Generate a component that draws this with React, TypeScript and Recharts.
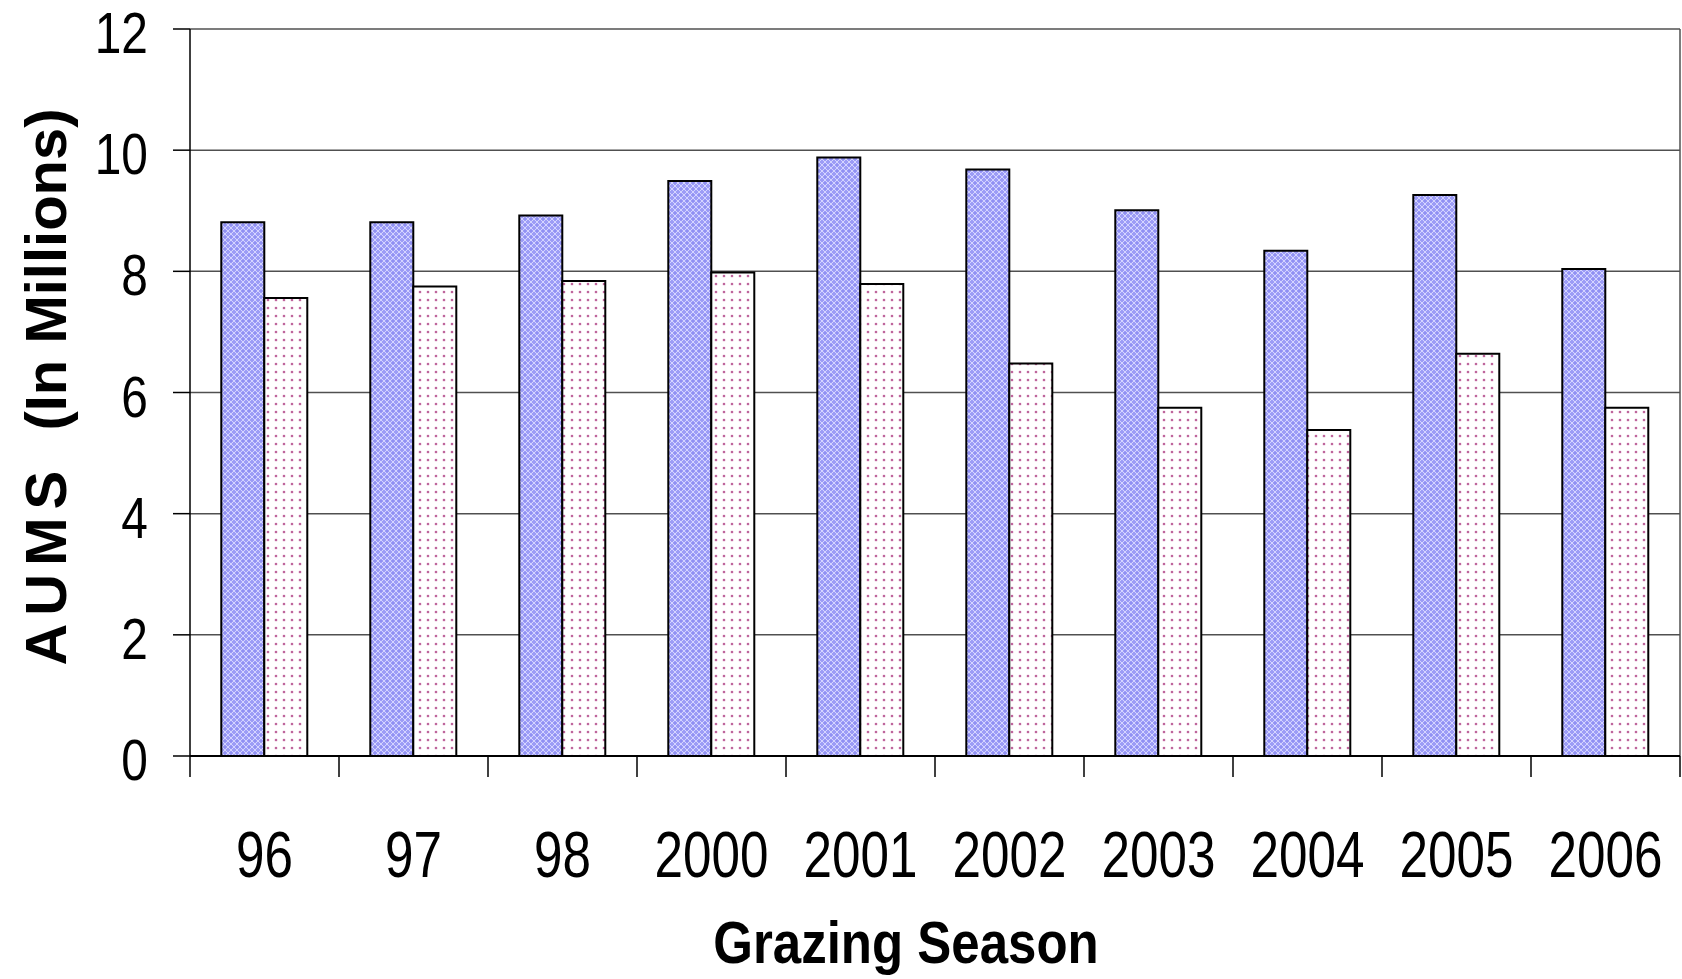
import React from 'react';
import { BarChart, Bar, XAxis, YAxis, CartesianGrid } from 'recharts';

const seasons = ['96', '97', '98', '2000', '2001', '2002', '2003', '2004', '2005', '2006'];
const blueValues = [8.81, 8.81, 8.92, 9.49, 9.88, 9.68, 9.01, 8.34, 9.26, 8.04];
const pinkValues = [7.56, 7.75, 7.84, 7.98, 7.79, 6.48, 5.75, 5.38, 6.64, 5.75];
const yTicks = [0, 2, 4, 6, 8, 10, 12];

const data = seasons.map((season, i) => ({
  season,
  blue: blueValues[i],
  pink: pinkValues[i],
}));

const W = 1682;
const H = 979;
const LEFT = 190;
const RIGHT = 2;
const BAND = (W - LEFT - RIGHT) / seasons.length;
const FONT = 'Liberation Sans, Arial, sans-serif';

const SeasonTick = (props: any) => {
  const { x, y, payload, index } = props;
  const left = x - BAND / 2;
  const right = x + BAND / 2;
  return (
    <g>
      <line x1={left} y1={y} x2={left} y2={y + 21} stroke="#000" strokeWidth={1.5} />
      {index === seasons.length - 1 && (
        <line x1={right} y1={y} x2={right} y2={y + 21} stroke="#000" strokeWidth={1.5} />
      )}
      <text
        transform={`translate(${x}, ${y + 121}) scale(0.8, 1)`}
        textAnchor="middle"
        fontSize={64}
        fontFamily={FONT}
        fill="#000"
      >
        {payload.value}
      </text>
    </g>
  );
};

const ValueTick = (props: any) => {
  const { x, y, payload } = props;
  return (
    <text
      transform={`translate(${x - 25}, ${y + 24}) scale(0.84, 1)`}
      textAnchor="end"
      fontSize={57}
      fontFamily={FONT}
      fill="#000"
    >
      {payload.value}
    </text>
  );
};

const App: React.FC = () => {
  return (
    <div style={{ position: 'absolute', left: 0, top: 0, width: W, height: H, background: '#fff' }}>
      <BarChart
        width={W}
        height={H}
        data={data}
        margin={{ top: 29, right: RIGHT, bottom: 0, left: 0 }}
        barCategoryGap="21%"
        barGap={0}
      >
        <defs>
          <pattern id="bluePat" width="6" height="6" patternUnits="userSpaceOnUse">
            <rect width="6" height="6" fill="#9c9cf6" />
            <path d="M0,3 L3,0 L6,3 L3,6 Z" fill="none" stroke="#d4d4ff" strokeWidth="1" />
            <circle cx="3" cy="3" r="0.8" fill="#8080f0" />
          </pattern>
          <pattern id="pinkPat" width="8" height="8" patternUnits="userSpaceOnUse">
            <rect width="8" height="8" fill="#fff" />
            <circle cx="4" cy="4" r="1.6" fill="#e8c0da" />
            <circle cx="4" cy="4" r="1" fill="#b04888" />
          </pattern>
        </defs>
        <CartesianGrid
          stroke="#505050"
          strokeWidth={1.5}
          verticalCoordinatesGenerator={({ offset }: any) => [offset.left + offset.width]}
        />
        <XAxis
          dataKey="season"
          height={H - 756}
          tickLine={false}
          tickSize={0}
          tickMargin={0}
          axisLine={{ stroke: '#000', strokeWidth: 2 }}
          tick={<SeasonTick />}
          interval={0}
        />
        <YAxis
          width={LEFT}
          domain={[0, 12]}
          ticks={yTicks}
          tickSize={17}
          tickMargin={0}
          tickLine={{ stroke: '#000', strokeWidth: 1.5 }}
          axisLine={{ stroke: '#000', strokeWidth: 1.5 }}
          tick={<ValueTick />}
          interval={0}
        />
        <Bar dataKey="blue" fill="url(#bluePat)" stroke="#000" strokeWidth={2} isAnimationActive={false} />
        <Bar dataKey="pink" fill="url(#pinkPat)" stroke="#000" strokeWidth={2} isAnimationActive={false} />
        <text
          transform="translate(906, 963) scale(0.85, 1)"
          textAnchor="middle"
          fontSize={60}
          fontWeight="bold"
          fontFamily={FONT}
          fill="#000"
        >
          Grazing Season
        </text>
        <text
          transform="translate(66, 387) rotate(-90)"
          textAnchor="middle"
          fontSize={58}
          fontWeight="bold"
          fontFamily={FONT}
          fill="#000"
        >
          <tspan letterSpacing={8}>AUMS</tspan>
          <tspan>{'\u00a0\u00a0(In Millions)'}</tspan>
        </text>
      </BarChart>
    </div>
  );
};

export default App;
